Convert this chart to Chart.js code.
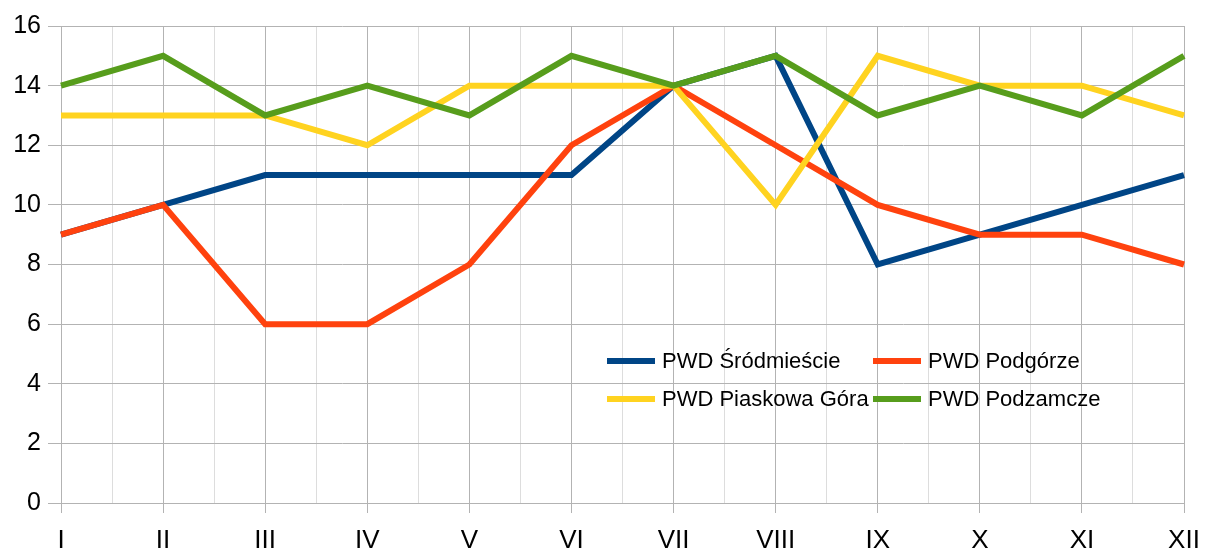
<!DOCTYPE html>
<html>
<head>
<meta charset="utf-8">
<script src="https://cdn.jsdelivr.net/npm/chart.js@4"></script>
<style>
  html, body { margin: 0; padding: 0; background: #fff; }
  #wrap { position: relative; width: 1222px; height: 548px; overflow: hidden; }
  #legend { position: absolute; left: 0; top: 0; font-family: 'Liberation Sans', sans-serif; font-size: 22px; color: #000; }
  .item { position: absolute; display: flex; align-items: center; white-space: nowrap; height: 30px; }
  .swatch { width: 48px; height: 6px; margin-right: 7px; }
</style>
</head>
<body>
<div id="wrap">
  <canvas id="chart" width="1222" height="548"></canvas>
  <div id="legend"></div>
</div>
<script>
const months = ['I', 'II', 'III', 'IV', 'V', 'VI', 'VII', 'VIII', 'IX', 'X', 'XI', 'XII'];
const seriesNames = ['PWD Śródmieście', 'PWD Podgórze', 'PWD Piaskowa Góra', 'PWD Podzamcze'];
const srodmiescie = [9, 10, 11, 11, 11, 11, 14, 15, 8, 9, 10, 11];
const podgorze = [9, 10, 6, 6, 8, 12, 14, 12, 10, 9, 9, 8];
const piaskowaGora = [13, 13, 13, 12, 14, 14, 14, 10, 15, 14, 14, 13];
const podzamcze = [14, 15, 13, 14, 13, 15, 14, 15, 13, 14, 13, 15];
const yTicks = [0, 2, 4, 6, 8, 10, 12, 14, 16];

const colors = ['#004586', '#ff420e', '#ffd320', '#579d1c'];
const values = [srodmiescie, podgorze, piaskowaGora, podzamcze];
const major = '#b3b3b3';
const minor = '#dddddd';

Chart.defaults.font.family = "'Liberation Sans', sans-serif";
Chart.defaults.color = '#000';

const datasets = values.map((v, i) => ({
    label: seriesNames[i],
    data: v,
    borderColor: colors[i],
    backgroundColor: colors[i],
    borderWidth: 6,
    pointRadius: 0,
    tension: 0,
    fill: false,
    order: values.length - i
}));

new Chart(document.getElementById('chart'), {
    type: 'line',
    data: { labels: months, datasets: datasets },
    options: {
        responsive: false,
        animation: false,
        layout: { padding: { left: 0, right: 38, top: 26, bottom: 0 } },
        plugins: { legend: { display: false }, tooltip: { enabled: false } },
        scales: {
            x: {
                type: 'category',
                offset: false,
                grid: { color: major, tickLength: 10, tickColor: major },
                border: { color: major },
                ticks: { font: { size: 26 }, color: '#000', maxRotation: 0, autoSkip: false, padding: 12 },
                afterFit: s => { s.height = 45; }
            },
            xm: {
                type: 'linear',
                position: 'bottom',
                min: 0,
                max: months.length - 1,
                grid: {
                    drawTicks: false,
                    color: c => (c.tick && c.tick.value % 1 !== 0) ? minor : 'transparent'
                },
                border: { display: false },
                ticks: { display: false, stepSize: 0.5 },
                afterFit: s => { s.height = 0; }
            },
            y: {
                min: yTicks[0],
                max: yTicks[yTicks.length - 1],
                grid: {
                    color: c => (c.tick && yTicks.includes(c.tick.value)) ? major : minor,
                    tickColor: c => (c.tick && yTicks.includes(c.tick.value)) ? major : 'transparent',
                    tickLength: 13
                },
                border: { color: major },
                ticks: {
                    stepSize: 1,
                    font: { size: 25 },
                    color: '#000',
                    padding: 7,
                    callback: v => yTicks.includes(v) ? String(v) : ''
                },
                afterFit: s => { s.width = 61; }
            }
        }
    }
});

// legend drawn inside the plot, two columns
const legend = document.getElementById('legend');
const legendPos = [[607, 346], [873, 346], [607, 384], [873, 384]];
seriesNames.forEach((name, i) => {
    const el = document.createElement('div');
    el.className = 'item';
    el.style.left = legendPos[i][0] + 'px';
    el.style.top = legendPos[i][1] + 'px';
    el.innerHTML = '<span class="swatch" style="background:' + colors[i] + '"></span><span>' + name + '</span>';
    legend.appendChild(el);
});
</script>
</body>
</html>
